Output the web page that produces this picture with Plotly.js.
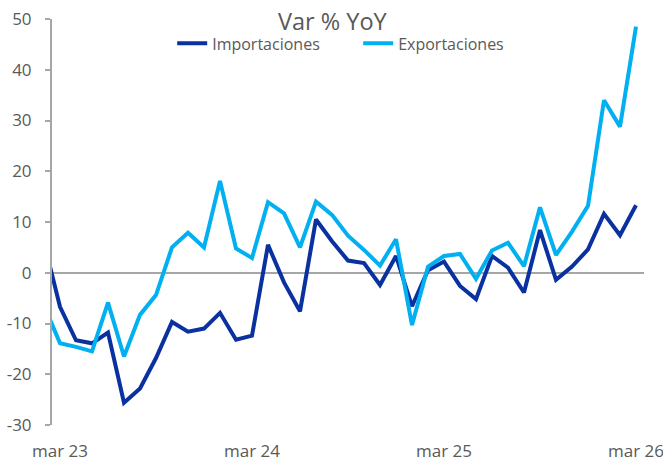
<!DOCTYPE html>
<html>
<head>
<meta charset="utf-8">
<script src="https://cdn.plot.ly/plotly-3.0.1.min.js"></script>
<style>
  html, body { margin: 0; padding: 0; background: #ffffff; }
  #chart { width: 663px; height: 462px; }
</style>
</head>
<body>
<div id="chart"></div>
<script>
// Monthly periods (feb 23 is only partly visible at the left edge)
const months = [
  "feb 23","mar 23","abr 23","may 23","jun 23","jul 23","ago 23","sep 23","oct 23","nov 23","dic 23",
  "ene 24","feb 24","mar 24","abr 24","may 24","jun 24","jul 24","ago 24","sep 24","oct 24","nov 24","dic 24",
  "ene 25","feb 25","mar 25","abr 25","may 25","jun 25","jul 25","ago 25","sep 25","oct 25","nov 25","dic 25",
  "ene 26","feb 26","mar 26"
];

// Var % YoY
const importaciones = [
  6.0, -6.7, -13.3, -13.9, -11.8, -25.6, -22.8, -16.8, -9.7, -11.6, -11.0,
  -7.9, -13.2, -12.4, 5.5, -1.9, -7.6, 10.5, 6.2, 2.4, 1.9, -2.4, 3.3,
  -6.6, 0.5, 2.2, -2.6, -5.2, 3.3, 1.0, -3.9, 8.4, -1.4, 1.2, 4.6,
  11.6, 7.4, 13.3
];
const exportaciones = [
  -6.4, -13.9, -14.6, -15.5, -5.9, -16.5, -8.3, -4.4, 5.0, 7.9, 5.0,
  18.1, 4.8, 2.9, 13.9, 11.7, 5.0, 14.0, 11.4, 7.3, 4.5, 1.4, 6.6,
  -10.3, 1.2, 3.3, 3.7, -1.2, 4.4, 5.9, 1.3, 12.9, 3.5, 8.1, 13.2,
  34.0, 28.8, 48.5
];

const tickLabels = ["mar 23", "mar 24", "mar 25", "mar 26"];
// year boundaries (between feb and mar) where the small tick marks sit
const yearBoundaries = [12.5, 24.5, 36.5];
const yTicks = [-30, -20, -10, 0, 10, 20, 30, 40, 50];
const yTickText = ["-30", "-20", "-10", "0", "10", "20", "30", "40", "50"];

const FONT = "'Open Sans', 'Noto Sans', sans-serif";
const GREY = "#595959";
const AXIS = "#a6a6a6";

const traces = [
  {
    type: "scatter", mode: "lines", name: "Importaciones",
    x: months, y: importaciones,
    line: { color: "#0a31a0", width: 4 }
  },
  {
    type: "scatter", mode: "lines", name: "Exportaciones",
    x: months, y: exportaciones,
    line: { color: "#00b0f0", width: 4 }
  }
];

const layout = {
  width: 663, height: 462,
  margin: { l: 52, r: 19, t: 19, b: 37 },
  paper_bgcolor: "#ffffff", plot_bgcolor: "#ffffff",
  font: { family: FONT, color: GREY, size: 16 },
  title: {
    text: "Var % YoY",
    font: { family: FONT, size: 23.5, color: GREY },
    x: 0.4735, xref: "paper", xanchor: "center",
    y: 0.953, yref: "container", yanchor: "middle"
  },
  showlegend: true,
  legend: {
    orientation: "h",
    x: 0.203, xanchor: "left",
    y: 0.94, yanchor: "middle",
    entrywidth: 141, entrywidthmode: "pixels",
    font: { family: FONT, size: 16, color: GREY },
    bgcolor: "rgba(0,0,0,0)",
    traceorder: "normal"
  },
  xaxis: {
    type: "category",
    categoryorder: "array", categoryarray: months,
    range: [0.5, 37.5],
    tickvals: tickLabels, ticktext: tickLabels,
    ticks: "", showline: false, showgrid: false, zeroline: false,
    ticklabelstandoff: 14,
    tickfont: { family: FONT, size: 17, color: GREY }
  },
  xaxis2: {
    type: "linear",
    overlaying: "x", anchor: "free", position: 0.375,
    range: [0.5, 37.5],
    tickvals: yearBoundaries,
    ticks: "outside", ticklen: 4, tickwidth: 2, tickcolor: AXIS,
    showticklabels: false, showline: false, showgrid: false, zeroline: false
  },
  yaxis: {
    range: [-30, 50],
    tickvals: yTicks, ticktext: yTickText,
    ticks: "outside", ticklen: 5, tickwidth: 2, tickcolor: AXIS,
    showline: true, linecolor: AXIS, linewidth: 2,
    showgrid: false,
    zeroline: true, zerolinecolor: AXIS, zerolinewidth: 2,
    ticklabelstandoff: 10,
    tickfont: { family: FONT, size: 17, color: GREY }
  }
};

Plotly.newPlot("chart", traces, layout, { displayModeBar: false, staticPlot: true });
</script>
</body>
</html>
